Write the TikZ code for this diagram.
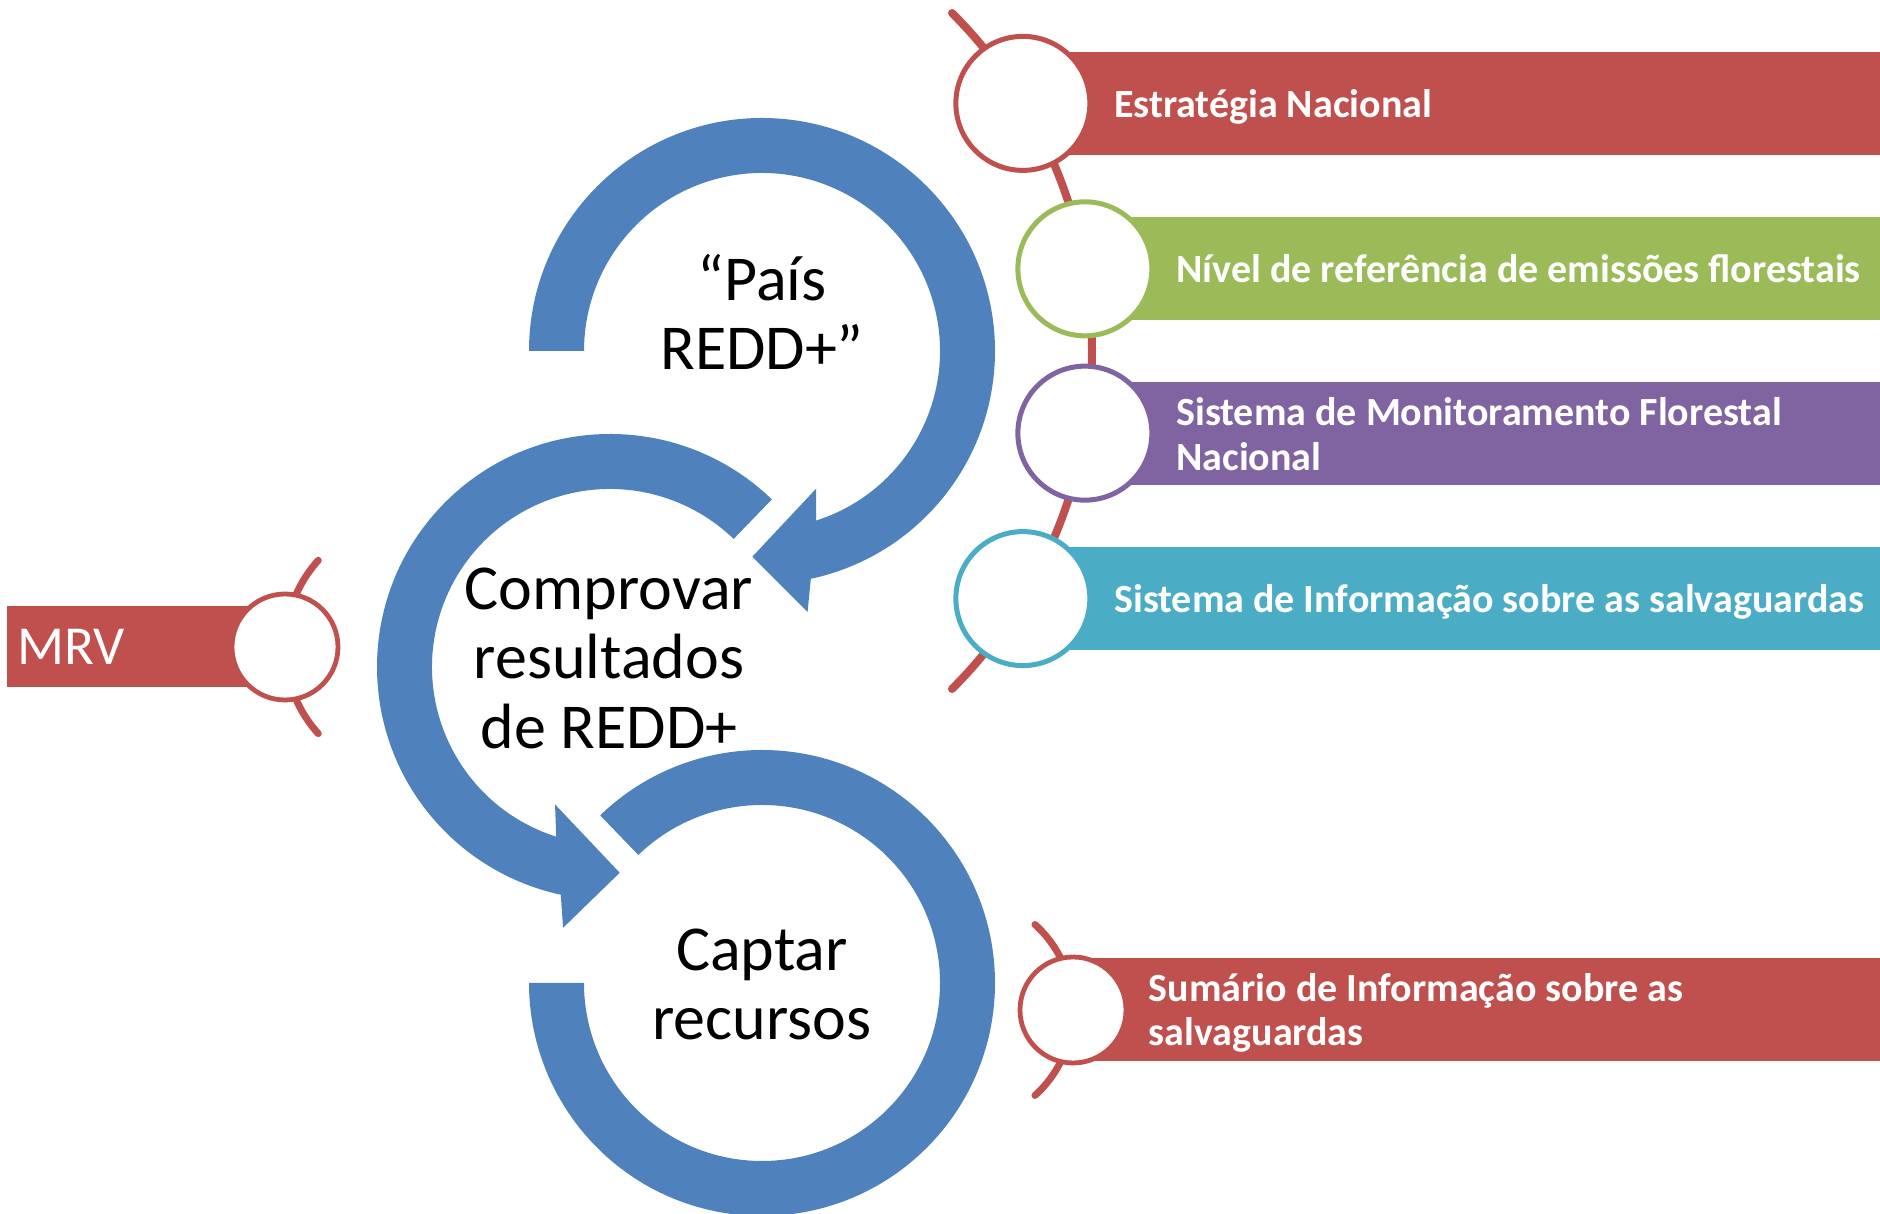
\documentclass[tikz,border=0pt]{standalone}
\usepackage{fontspec}
\setmainfont{Carlito}
\definecolor{accblue}{HTML}{4F81BD}
\definecolor{accred}{HTML}{C0504D}
\definecolor{accgreen}{HTML}{9BBB59}
\definecolor{accpurple}{HTML}{8064A2}
\definecolor{acccyan}{HTML}{4BACC6}
\begin{document}
\begin{tikzpicture}[x=0.5pt, y=0.5pt,
    ring/.style={circle, draw, fill=white, line width=2.5pt, inner sep=0pt, minimum size=67pt},
    smallring/.style={ring, line width=2.4pt, minimum size=53pt},
    bandtext/.style={text=white, font=\fontsize{20}{22.3}\selectfont\bfseries, anchor=west, align=left, inner sep=0pt},
    cycletext/.style={font=\fontsize{32}{34.75}\selectfont, align=center, inner sep=0pt}]
  \useasboundingbox (0,0) rectangle (1880,1214);
  % centres
  \coordinate (T) at (762,863);
  \coordinate (M) at (610,547);
  \coordinate (B) at (762,231);
  \coordinate (A) at (614,863);
  \coordinate (D) at (414.5,567);
  \coordinate (E) at (958,204);
  % circular arrows
  \fill[accblue, shift={(T)}] (180:233) arc[start angle=180, end angle=-77.9, radius=233]
    -- (-80.1:265) -- (-92.7:206) -- (-68.6:148) -- (-72.3:178)
    arc[start angle=-72.3, end angle=180, radius=178] -- cycle;
  \fill[accblue, shift={(M)}] (46:233) arc[start angle=46, end angle=257.8, radius=233]
    -- (259.8:265) -- (272.7:206) -- (248.2:148) -- (252.4:178)
    arc[start angle=252.4, end angle=46, radius=178] -- cycle;
  \fill[accblue, shift={(B)}] (134:233) arc[start angle=134, end angle=-180, radius=233]
    -- (180:178) arc[start angle=-180, end angle=134, radius=178] -- cycle;
  \node[cycletext] (pais) at (762,902) {“País\\REDD+”};
  \node[cycletext] (comprovar) at (609,556) {Comprovar\\resultados\\de REDD+};
  \node[cycletext] (captar) at (762,229.5) {Captar\\recursos};
  % right list
  \draw[accred, line width=4pt, line cap=round] ([shift={(45:478)}]A) arc[start angle=45, end angle=-45, radius=478];
  \coordinate (p1) at ([shift={(31.2:478)}]A);
  \coordinate (p2) at ([shift={(9.9:478)}]A);
  \coordinate (p3) at ([shift={(-9.9:478)}]A);
  \coordinate (p4) at ([shift={(-31.2:478)}]A);
  \fill[accred] (p1) ++(0,-51.5) rectangle ++(900,103);
  \fill[accgreen] (p2) ++(0,-51.5) rectangle ++(900,103);
  \fill[accpurple] (p3) ++(0,-51.5) rectangle ++(900,103);
  \fill[acccyan] (p4) ++(0,-51.5) rectangle ++(900,103);
  \node[ring, draw=accred] (c1) at (p1) {};
  \node[ring, draw=accgreen] (c2) at (p2) {};
  \node[ring, draw=accpurple] (c3) at (p3) {};
  \node[ring, draw=acccyan] (c4) at (p4) {};
  \node[bandtext] (t1) at ([shift={(91,-3)}]p1) {Estratégia Nacional};
  \node[bandtext] (t2) at ([shift={(91,0)}]p2) {Nível de referência de emissões florestais};
  \node[bandtext] (t3) at ([shift={(91,-1)}]p3) {Sistema de Monitoramento Florestal\\Nacional};
  \node[bandtext] (t4) at ([shift={(91,-3.5)}]p4) {Sistema de Informação sobre as salvaguardas};
  % MRV
  \draw[accred, line width=3.5pt, line cap=round] ([shift={(138:129.5)}]D) arc[start angle=138, end angle=222, radius=129.5];
  \coordinate (p0) at ([shift={(180:129.5)}]D);
  \fill[accred] (7.3,526.7) rectangle (p0 |- 0,608);
  \node[smallring, draw=accred] (c0) at (p0) {};
  \node[text=white, font=\fontsize{27.5}{30}\selectfont, anchor=west, inner sep=0pt] (mrv) at (17,567) {MRV};
  % summary
  \draw[accred, line width=3.5pt, line cap=round] ([shift={(48:115)}]E) arc[start angle=48, end angle=-48, radius=115];
  \coordinate (p5) at ([shift={(0:115)}]E);
  \fill[accred] (p5) ++(0,-51.5) rectangle ++(900,103);
  \node[smallring, draw=accred] (c5) at (p5) {};
  \node[bandtext] (t5) at ([shift={(75.5,-3)}]p5) {Sumário de Informação sobre as\\salvaguardas};
\end{tikzpicture}
\end{document}
